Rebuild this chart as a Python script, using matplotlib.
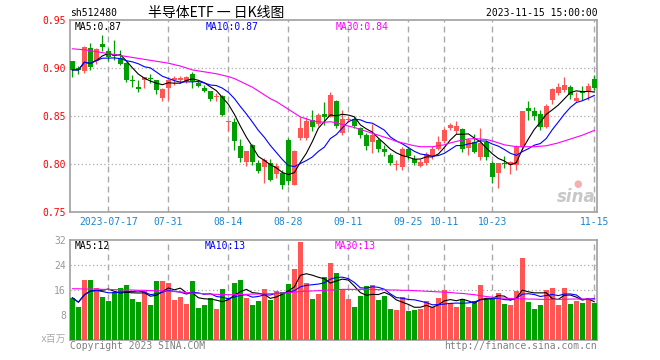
import numpy as np
import pandas as pd
import matplotlib
matplotlib.use("Agg")
import matplotlib.pyplot as plt

# daily K data, 2023-07-07 .. 2023-11-15 (88 trading days)
opens = [.907, .900, .897, .921, .907, .925, .918, .915, .910, .905,
         .887, .880, .888, .890, .888, .869, .879, .888, .888, .886,
         .894, .884, .879, .876, .870, .871, .844, .844, .819, .802,
         .820, .801, .797, .801, .790, .791, .825, .778, .827, .827,
         .846, .842, .852, .849, .866, .832, .846, .847, .838, .830,
         .823, .825, .816, .809, .799, .797, .816, .805, .798, .801,
         .808, .816, .824, .838, .834, .836, .817, .823, .807, .823,
         .801, .791, .801, .799, .799, .818, .858, .855, .852, .839,
         .867, .874, .877, .880, .866, .876, .875, .889]
highs = [.907, .902, .923, .926, .921, .934, .921, .929, .919, .906,
         .893, .888, .891, .894, .888, .879, .889, .892, .892, .892,
         .896, .886, .882, .876, .874, .872, .845, .848, .826, .814,
         .821, .804, .806, .805, .801, .794, .827, .815, .849, .849,
         .856, .853, .865, .875, .867, .856, .849, .849, .839, .832,
         .842, .827, .820, .811, .804, .818, .818, .809, .805, .813,
         .819, .829, .837, .843, .845, .838, .827, .831, .837, .825,
         .803, .801, .808, .803, .820, .855, .866, .859, .856, .862,
         .879, .884, .891, .882, .875, .881, .884, .893]
lows = [.891, .894, .895, .898, .904, .918, .907, .908, .903, .885,
        .880, .875, .879, .884, .873, .866, .867, .882, .884, .884,
        .879, .880, .875, .866, .866, .850, .834, .815, .802, .798,
        .799, .791, .780, .782, .785, .774, .778, .778, .825, .825,
        .834, .840, .841, .849, .838, .830, .844, .838, .827, .815,
        .811, .813, .808, .799, .794, .794, .805, .799, .797, .799,
        .805, .815, .822, .835, .831, .812, .809, .811, .804, .804,
        .780, .775, .796, .790, .794, .815, .846, .846, .835, .837,
        .863, .872, .875, .868, .865, .867, .867, .877]
closes = [.898, .898, .922, .901, .920, .922, .911, .912, .904, .888,
          .886, .878, .891, .889, .877, .878, .888, .889, .889, .891,
          .886, .881, .876, .868, .871, .851, .845, .824, .806, .814,
          .802, .793, .804, .783, .798, .778, .782, .814, .837, .845,
          .839, .851, .849, .872, .840, .847, .847, .840, .830, .819,
          .830, .816, .812, .801, .799, .816, .808, .801, .802, .810,
          .816, .823, .835, .841, .840, .816, .825, .813, .822, .807,
          .786, .801, .800, .802, .818, .855, .855, .850, .839, .860,
          .878, .880, .882, .872, .869, .874, .881, .879]
# volume, x 1e6
volumes = [13.5, 10.7, 19.2, 19.2, 16.6, 13.9, 12.6, 15.5, 16.6, 17.6,
           13.2, 12.3, 15.8, 11.2, 19.0, 19.0, 18.2, 12.9, 13.9, 11.5,
           19.0, 10.3, 11.2, 13.4, 9.9, 16.4, 13.6, 18.3, 19.2, 13.5,
           11.2, 12.6, 16.4, 12.9, 15.8, 15.5, 18.0, 22.8, 31.5, 18.2,
           13.2, 14.7, 20.3, 24.7, 21.5, 16.2, 13.2, 10.7, 14.2, 17.3,
           17.6, 12.9, 14.2, 9.9, 9.6, 13.9, 9.4, 9.6, 9.9, 12.6,
           10.7, 13.4, 16.0, 12.0, 10.7, 13.2, 10.7, 12.4, 17.6, 12.8,
           13.2, 15.0, 11.6, 11.2, 15.8, 26.2, 12.3, 9.9, 11.2, 16.0,
           16.6, 11.2, 16.6, 11.6, 12.6, 11.9, 13.2, 11.9]
# 30-day averages (need history before the window)
ma30 = [.920, .9195, .919, .918, .917, .916, .915, .914, .913, .912,
        .911, .910, .909, .908, .907, .906, .905, .9035, .902, .900,
        .898, .897, .896, .895, .894, .8925, .891, .889, .886, .883,
        .880, .876, .872, .868, .865, .861, .857, .853, .849, .847,
        .845, .844, .8435, .844, .843, .841, .8395, .838, .836, .834,
        .832, .830, .828, .826, .8235, .822, .8205, .819, .818, .818,
        .818, .819, .820, .822, .8235, .825, .826, .8265, .826, .8255,
        .824, .822, .820, .819, .818, .818, .818, .818, .8185, .819,
        .8205, .822, .824, .826, .828, .830, .8325, .835]
vol_ma30 = [16.4, 16.4, 16.3, 16.3, 16.3, 16.2, 16.2, 16.1, 16.1, 16.0,
            16.0, 15.9, 15.9, 15.8, 15.8, 15.7, 15.6, 15.5, 15.4, 15.2,
            15.0, 14.9, 14.8, 14.7, 14.6, 14.6, 14.5, 14.5, 14.6, 14.6,
            14.7, 14.7, 14.8, 14.8, 14.9, 15.0, 15.1, 15.3, 15.5, 15.6,
            15.7, 15.8, 15.9, 16.0, 16.1, 16.2, 16.2, 16.2, 16.2, 16.2,
            16.2, 16.1, 16.1, 16.0, 16.0, 15.9, 15.9, 15.8, 15.7, 15.6,
            15.5, 15.4, 15.3, 15.2, 15.0, 14.9, 14.7, 14.5, 14.2, 13.9,
            13.7, 13.5, 13.4, 13.3, 13.2, 13.2, 13.1, 13.1, 13.0, 13.0,
            13.0, 13.0, 13.0, 13.1, 13.1, 13.1, 13.1, 13.1]
tick_idx = [6, 16, 26, 36, 46, 56, 62, 70, 87]
tick_lab = ["2023-07-17", "07-31", "08-14", "08-28", "09-11",
            "09-25", "10-11", "10-23", "11-15"]
price_ticks = [0.75, 0.80, 0.85, 0.90, 0.95]
vol_ticks = [8, 16, 24, 32]

RED = "#ff5555"
GREEN = "#00a000"
GRID = "#aaaaaa"
BORDER = "#a0a0a0"
MONO = "DejaVu Sans Mono"

W, H = 660, 360
fig = plt.figure(figsize=(W / 100, H / 100), dpi=100)


def px(x, y):
    return x / W, 1 - y / H


ax1 = fig.add_axes([70 / W, 1 - 212 / H, 527 / W, 192 / H])
ax2 = fig.add_axes([70 / W, 1 - 340 / H, 527 / W, 100 / H])

x = np.arange(len(closes))
o = np.array(opens); c = np.array(closes)
up = c >= o
cols = np.where(up, RED, GREEN)

# candles
ax1.vlines(x, lows, highs, colors=cols, lw=0.9, zorder=3)
body_h = np.maximum(np.abs(c - o), 0.0011)
ax1.bar(x, body_h, bottom=np.minimum(o, c), width=0.78, color=cols, zorder=4)

s = pd.Series(closes)
ma5 = s.rolling(5, min_periods=1).mean()
ma10 = s.rolling(10, min_periods=1).mean()
ax1.plot(x, ma5, color="black", lw=0.8, zorder=5)
ax1.plot(x, ma10, color="#0000ff", lw=0.8, zorder=5)
ax1.plot(x, ma30, color="#ff00ff", lw=0.8, zorder=5)

# volume
ax2.bar(x, volumes, width=0.83, color=cols, zorder=3)
v = pd.Series(volumes)
ax2.plot(x, v.rolling(5, min_periods=1).mean(), color="black", lw=0.8, zorder=5)
ax2.plot(x, v.rolling(10, min_periods=1).mean(), color="#0000ff", lw=0.8, zorder=5)
ax2.plot(x, vol_ma30, color="#ff00ff", lw=0.8, zorder=5)

for ax in (ax1, ax2):
    ax.set_xlim(-0.4, 87.45)
    for sp in ax.spines.values():
        sp.set_color(BORDER)
        sp.set_linewidth(1.2)
    for t in tick_idx:
        ax.axvline(t, color=GRID, lw=1.0, ls=(0, (4.3, 2.9)), zorder=1)
    ax.set_xticks([])

ax1.set_ylim(0.75, 0.95)
ax1.set_yticks(price_ticks)
ax1.set_yticklabels(["%.2f" % p for p in price_ticks], color="#ff0000",
                    family=MONO, fontsize=7)
ax1.tick_params(axis="y", length=0, pad=3)
for p in price_ticks[1:-1]:
    ax1.axhline(p, color=GRID, lw=0.9, ls=(0, (1, 2)), zorder=1)

ax2.set_ylim(0, 32)
ax2.set_yticks(vol_ticks)
ax2.set_yticklabels([str(t) for t in vol_ticks], color="#999999",
                    family=MONO, fontsize=7)
ax2.tick_params(axis="y", length=0, pad=3)
for t in (16, 24):
    ax2.axhline(t, color=GRID, lw=0.9, ls=(0, (1, 2)), zorder=1)

# date labels between the panels
for t, lab in zip(tick_idx, tick_lab):
    xf = ax1.transData.transform((t, 0))[0] / fig.dpi / fig.get_figwidth()
    fig.text(xf, px(0, 222)[1], lab, color="#1a86d0", family=MONO,
             fontsize=7, ha="center", va="center")

# header
fig.text(*px(70, 13), "sh512480", family=MONO, fontsize=7, va="center")
fig.text(*px(216, 12.5), "半导体ETF 一 日K线图", family=["Noto Sans CJK SC", "DejaVu Sans"],
         fontsize=10, ha="center", va="center")
fig.text(*px(598, 13), "2023-11-15 15:00:00", family=MONO, fontsize=7,
         ha="right", va="center")

# MA legends
fig.text(*px(75, 26.5), "MA5:0.87", family=MONO, fontsize=7, color="black", va="center")
fig.text(*px(206, 26.5), "MA10:0.87", family=MONO, fontsize=7, color="#0000ff", va="center")
fig.text(*px(336, 26.5), "MA30:0.84", family=MONO, fontsize=7, color="#ff00ff", va="center")
fig.text(*px(75, 246), "MA5:12", family=MONO, fontsize=7, color="black", va="center")
fig.text(*px(205, 246), "MA10:13", family=MONO, fontsize=7, color="#0000ff", va="center")
fig.text(*px(335, 246), "MA30:13", family=MONO, fontsize=7, color="#ff00ff", va="center")

# footer
fig.text(*px(66, 339), "x百万", family=[MONO, "Noto Sans CJK SC"], fontsize=7,
         color="#aaaaaa", ha="right", va="center")
fig.text(*px(70, 346), "Copyright 2023 SINA.COM", family=MONO, fontsize=7,
         color="#808080", va="center")
fig.text(*px(597, 346), "http://finance.sina.com.cn", family=MONO, fontsize=7,
         color="#808080", ha="right", va="center")

# watermark
fig.text(*px(596, 197), "sina", fontsize=12, fontweight="bold", style="italic",
         color="#c8c8c8", ha="right", va="center")
fig.text(*px(578, 184), "●", fontsize=7, color="#f4b0b0", ha="center", va="center")

fig.savefig("out.png", dpi=100)
